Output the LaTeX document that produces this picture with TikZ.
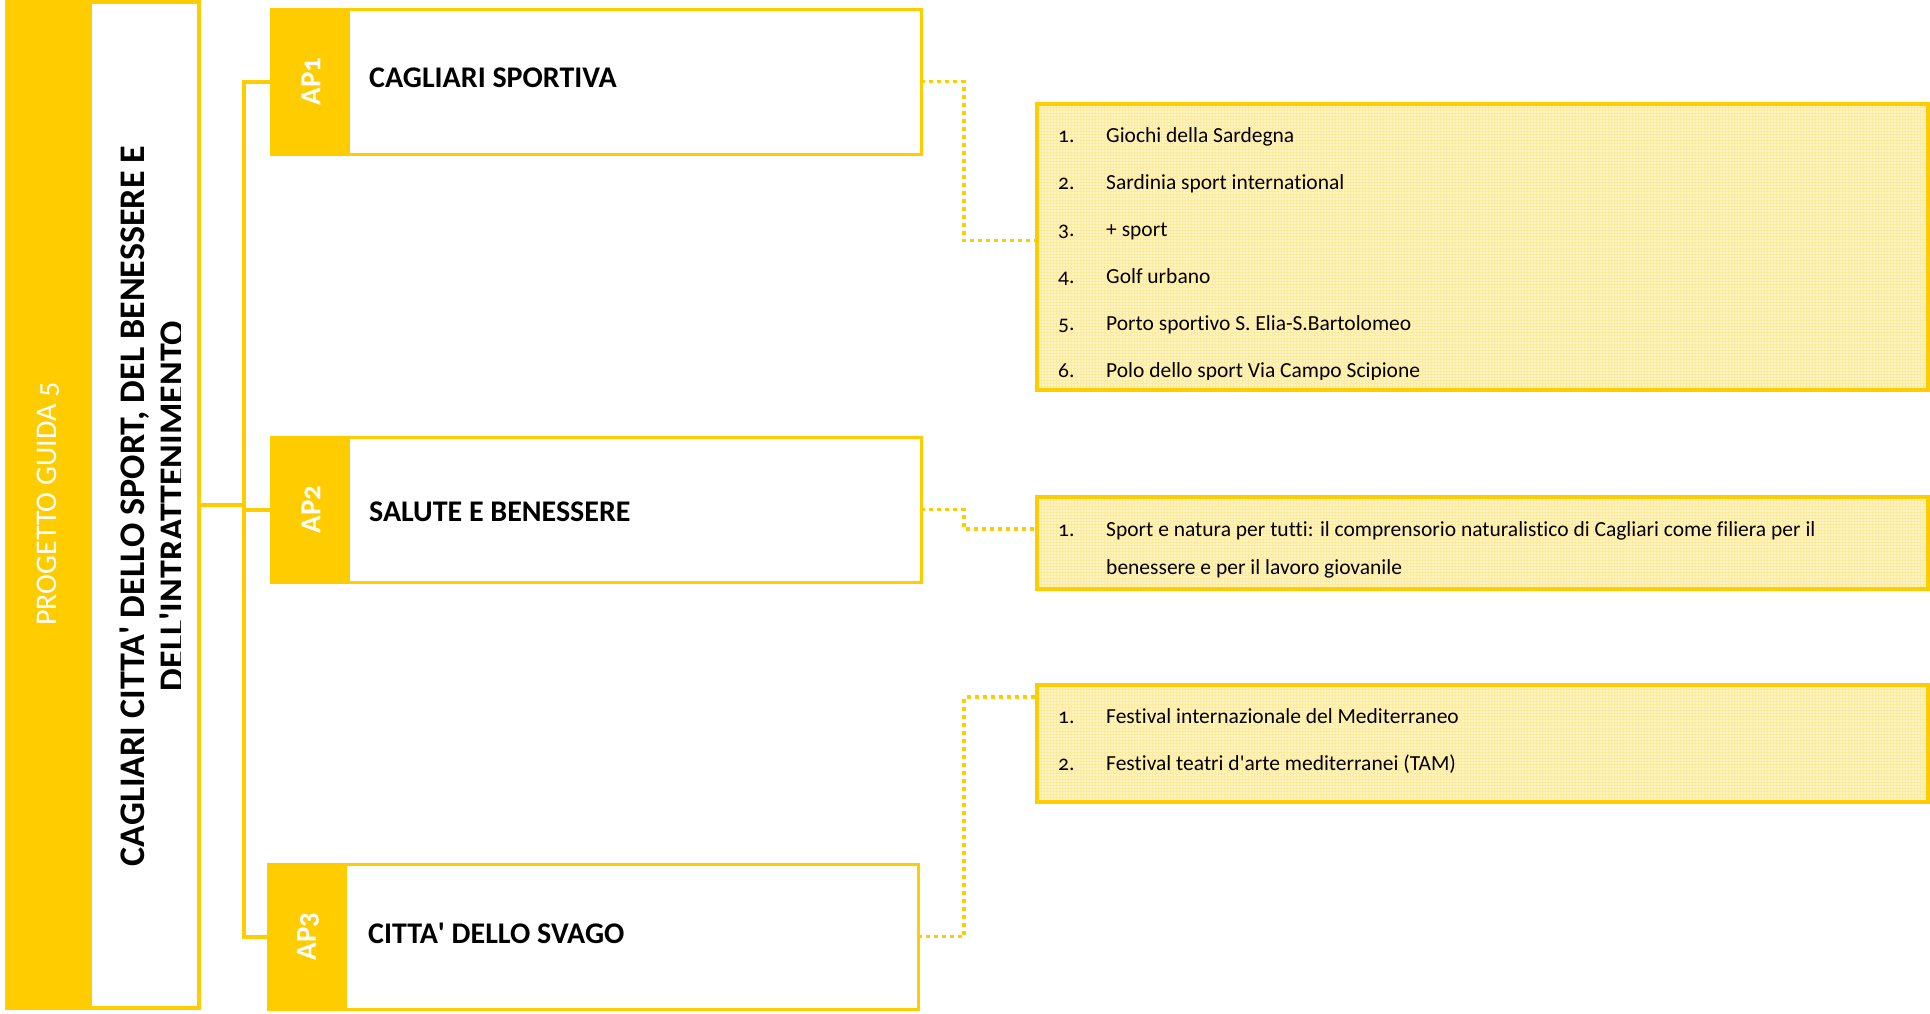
\documentclass[tikz,border=0pt]{standalone}
\usepackage{fontspec}
\setmainfont{Carlito}[Numbers=OldStyle, Ligatures={TeX,NoCommon}]
\usetikzlibrary{positioning,patterns}
\definecolor{giallo}{RGB}{255,204,0}
\definecolor{giallino}{RGB}{255,244,200}

\begin{document}
\begin{tikzpicture}[x=1pt, y=-1pt,
    cornice/.style={draw=giallo, line width=4pt, fill=white, outer sep=0pt, inner sep=0pt, anchor=north west},
    apbox/.style={draw=giallo, line width=3pt, fill=white, outer sep=0pt, inner sep=0pt, anchor=north west, minimum width=650, minimum height=145},
    elenco/.style={draw=giallo, line width=4pt, preaction={fill=giallino}, pattern=grid, pattern color=giallo!40, outer sep=0pt, inner sep=0pt, anchor=north west, minimum width=891},
    voce/.style={anchor=base west, inner sep=0pt, font=\fontsize{21.5}{26}\selectfont},
    titoletto/.style={anchor=west, inner sep=0pt, font=\fontsize{30}{34}\selectfont\bfseries},
    etichetta/.style={rotate=90, text=white, inner sep=0pt, font=\fontsize{29}{32}\selectfont\bfseries},
    ramo/.style={draw=giallo, line width=4pt},
    puntini/.style={draw=giallo, line width=3.5pt, dash pattern=on 4pt off 4pt}]
            \useasboundingbox (0,0) rectangle (1930,1013);

            % progetto guida
            \node[cornice, minimum width=192, minimum height=1006] (main) at (7,2) {};
            \fill[giallo] (5,0) rectangle (92,1010);
            \node[rotate=90, text=white, inner sep=0pt, font=\fontsize{30}{34}\selectfont] (guida) at (48,504) {PROGETTO GUIDA 5};
            \begin{scope}
            \clip (92,4) rectangle (180,1006);
            \node[rotate=90, align=center, inner sep=0pt, font=\fontsize{36}{40}\selectfont\bfseries] (titolo) at (152,506) {CAGLIARI CITTA\textquotesingle{} DELLO SPORT, DEL BENESSERE E\\DELL\textquotesingle{}INTRATTENIMENTO};
            \end{scope}

            % assi prioritari
            \node[apbox] (ap1) at (271,9) {};
            \fill[giallo] (ap1.north west) rectangle ([xshift=79]ap1.south west);
            \node[etichetta] (tag1) at ([xshift=40]ap1.west) {AP1};
            \node[titoletto] (tit1) at ([xshift=98, yshift=4]ap1.west) {CAGLIARI SPORTIVA};

            \node[apbox] (ap2) at (271,437) {};
            \fill[giallo] (ap2.north west) rectangle ([xshift=79]ap2.south west);
            \node[etichetta] (tag2) at ([xshift=40]ap2.west) {AP2};
            \node[titoletto] (tit2) at ([xshift=98, yshift=-2]ap2.west) {SALUTE E BENESSERE};

            \node[apbox] (ap3) at (268,864) {};
            \fill[giallo] (ap3.north west) rectangle ([xshift=79]ap3.south west);
            \node[etichetta] (tag3) at ([xshift=40]ap3.west) {AP3};
            \node[titoletto] (tit3) at ([xshift=100, yshift=3]ap3.west) {CITTA\textquotesingle{} DELLO SVAGO};

            \draw[ramo] (main.east) -- ++(45,0) coordinate (snodo);
            \draw[ramo] (ap1.west) -| (snodo) |- (ap3.west);
            \draw[ramo] (snodo |- ap2.west) -- (ap2.west);

            % azioni
            \node[elenco, minimum height=286] (l1) at (1037,104) {};
            \begin{scope}
            \clip (1040,106) rectangle (1925,379);
            \node[voce] (v11) at (1058,142) {\makebox[48pt][l]{1.}Giochi della Sardegna};
            \node[voce] (v12) at (1058,189) {\makebox[48pt][l]{2.}Sardinia sport international};
            \node[voce] (v13) at (1058,236) {\makebox[48pt][l]{3.}+ sport};
            \node[voce] (v14) at (1058,283) {\makebox[48pt][l]{4.}Golf urbano};
            \node[voce] (v15) at (1058,330) {\makebox[48pt][l]{5.}Porto sportivo S. Elia-S.Bartolomeo};
            \node[voce] (v16) at (1058,377) {\makebox[48pt][l]{6.}Polo dello sport Via Campo Scipione};
            \end{scope}

            \node[elenco, minimum height=92] (l2) at (1037,497) {};
            \node[voce] (v21) at (1058,536) {\makebox[48pt][l]{1.}Sport e natura per tutti: il comprensorio naturalistico di Cagliari come filiera per il};
            \node[voce] (v21b) at (1106,574) {benessere e per il lavoro giovanile};

            \node[elenco, minimum height=117] (l3) at (1037,685) {};
            \node[voce] (v31) at (1058,723) {\makebox[48pt][l]{1.}Festival internazionale del Mediterraneo};
            \node[voce] (v32) at (1058,770) {\makebox[48pt][l]{2.}Festival teatri d\textquotesingle{}arte mediterranei (TAM)};

            \draw[puntini] (ap1.east) -- ++(43,0) |- ([yshift=6.5]l1.west);
            \draw[puntini] (ap2.east) -- ++(43,0) |- ([yshift=14]l2.west);
            \draw[puntini] (ap3.east) -- ++(46,0) |- ([yshift=46.5]l3.west);

        \end{tikzpicture}
\end{document}
